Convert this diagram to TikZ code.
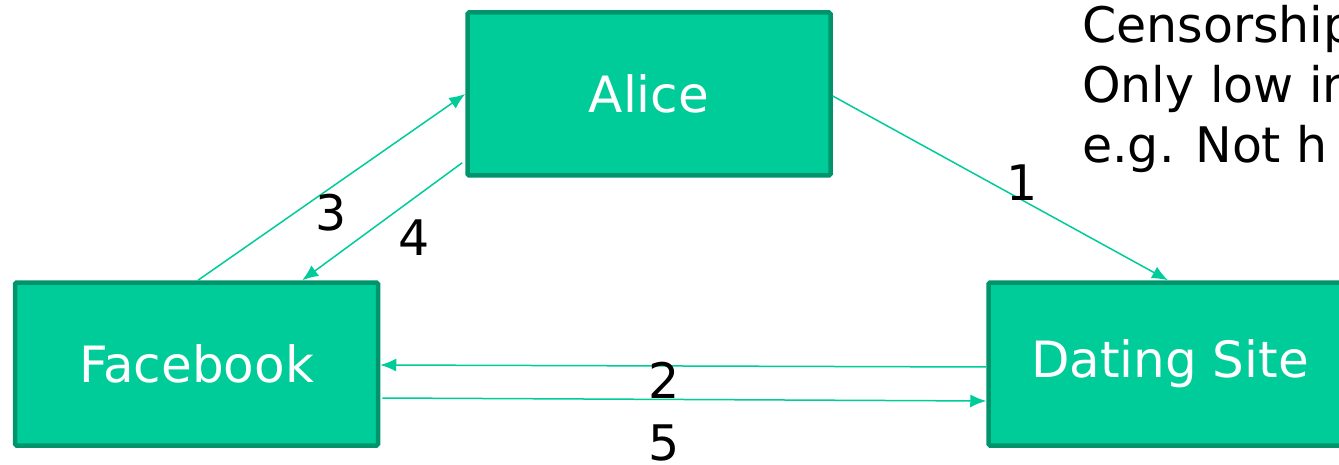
\documentclass[tikz,border=0pt]{standalone}
\usepackage{fontspec}
\setmainfont{DejaVu Sans}
\usepackage{tikz}
\usetikzlibrary{arrows.meta}

\definecolor{boxfill}{HTML}{00CC99}
\definecolor{boxline}{HTML}{00946C}

\tikzset{
  party/.style={draw=boxline,fill=boxfill,line width=4.5pt,rounded corners=1.5pt,
    minimum width=363pt,minimum height=163pt,text=white,
    font=\fontsize{50}{60}\selectfont},
  msg/.style={draw=boxfill,line width=1.5pt,-{Latex[length=16pt,width=13pt]}},
  num/.style={font=\fontsize{49}{58}\selectfont}
}

\begin{document}
\begin{tikzpicture}[x=1pt,y=-1pt]
\useasboundingbox (0,0) rectangle (1339,465);

\node [party] (alice) at (649,94) {Alice};
\node [party] (fb) at (196.5,364) {Facebook};
\node [party] (ds) at (1170,364) {Dating Site};

\node [anchor=north west,inner sep=0,align=left,font=\fontsize{49}{60}\selectfont]
  (note) at (1082,5) {Censorship\\Only low in\\e.g. Not h};

% messages
\draw [msg] ([yshift=-2pt]alice.east) -- ([xshift=-2pt]ds.north);
\draw [msg] ([yshift=-3pt]ds.west) -- ([yshift=-1pt]fb.east);
\draw [msg] ([xshift=1.5pt]fb.north) -- (alice.west);
\draw [msg] ([xshift=-3pt,yshift=15pt]alice.south west) -- ([xshift=-78pt]fb.north east);
\draw [msg] ([xshift=2pt,yshift=-34pt]fb.east) -- ([yshift=-37pt]ds.west);

\node [num] (n1) at (1022,183) {1};
\node [num] (n2) at (664,380) {2};
\node [num] (n3) at (331,213) {3};
\node [num] (n4) at (414,238) {4};
\node [num] (n5) at (664,443) {5};
\end{tikzpicture}
\end{document}
